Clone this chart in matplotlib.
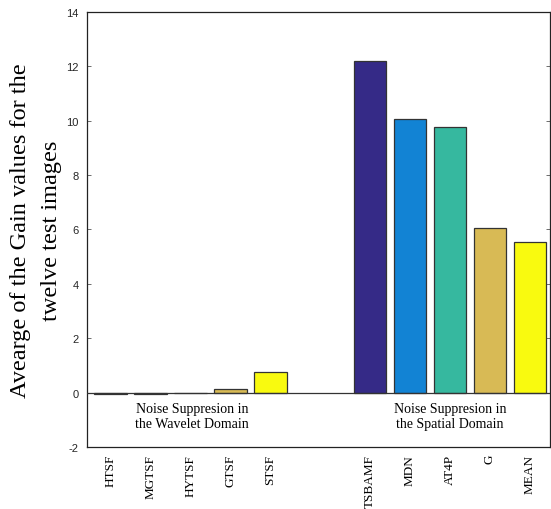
import numpy as np
import matplotlib
matplotlib.use("Agg")
import matplotlib.pyplot as plt

# wavelet-domain filters and spatial-domain filters
wavelet_names  = ["HTSF", "MGTSF", "HYTSF", "GTSF", "STSF"]
wavelet_gain   = [-0.05, -0.05, 0.0, 0.12, 0.77]
spatial_names  = ["TSBAMF", "MDN", "AT4P", "G", "MEAN"]
spatial_gain   = [12.2, 10.07, 9.78, 6.07, 5.53]
bar_colors     = ["#352a87", "#1283d4", "#36b89f", "#d8ba55", "#f9fa0f"]
y_ticks        = [-2, 0, 2, 4, 6, 8, 10, 12, 14]

wav_pos = np.arange(1, 6)
spa_pos = np.arange(1, 6) + 6.5

fig = plt.figure(figsize=(5.51, 5.10), dpi=100, facecolor="white")
ax = fig.add_axes([0.158, 0.1216, 0.84, 0.853])

ax.bar(wav_pos, wavelet_gain, width=0.82, color=bar_colors,
       edgecolor="#333333", linewidth=0.9, zorder=2)
ax.bar(spa_pos, spatial_gain, width=0.82, color=bar_colors,
       edgecolor="#333333", linewidth=0.9, zorder=2)
ax.axhline(0, color="#333333", linewidth=0.9, zorder=3)

ax.set_xlim(0.42, 12.0)
ax.set_ylim(-2, 14)
ax.set_yticks(y_ticks)
ax.set_yticklabels([str(t) for t in y_ticks], family="Liberation Sans",
                   fontsize=8, color="#262626")
ax.tick_params(axis="y", direction="in", length=3, right=True, width=0.6,
               color="#555555", pad=6)

all_pos = np.concatenate([wav_pos, spa_pos])
ax.set_xticks(all_pos)
ax.set_xticklabels(wavelet_names + spatial_names, rotation=90,
                   family="Liberation Serif", fontsize=9.5, va="top")
ax.tick_params(axis="x", length=0, pad=5)
ax.set_xticks([3, 9.5], minor=True)
ax.tick_params(axis="x", which="minor", direction="in", length=3, top=True,
               width=0.6, color="#555555")

for sp in ax.spines.values():
    sp.set_color("#222222")
    sp.set_linewidth(0.9)

ax.text(3.05, -0.35, "Noise Suppresion in\nthe Wavelet Domain",
        ha="center", va="top", family="Liberation Serif", fontsize=10,
        linespacing=1.2)
ax.text(9.5, -0.35, "Noise Suppresion in\nthe Spatial Domain",
        ha="center", va="top", family="Liberation Serif", fontsize=10,
        linespacing=1.2)

ax.set_ylabel("Avearge of the Gain values for the\ntwelve test images",
              family="Liberation Serif", fontsize=17.5, linespacing=1.6,
              labelpad=3)

fig.savefig("out.png", dpi=100, facecolor="white")
